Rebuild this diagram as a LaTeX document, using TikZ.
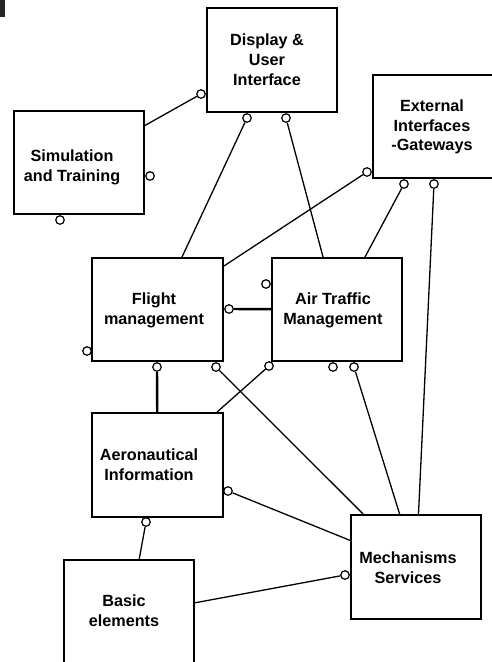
\documentclass[tikz,border=0pt]{standalone}
\usepackage{fontspec}
\setmainfont{Liberation Sans}
\begin{document}
\begin{tikzpicture}[x=1pt,y=-1pt,
  box/.style={draw, rectangle, line width=2pt, inner sep=0pt},
  lbl/.style={font=\bfseries\fontsize{16.2}{19.8}\selectfont, align=center, inner sep=0pt},
  port/.style={circle, draw, fill=white, line width=1.2pt, inner sep=0pt, minimum size=8.5pt},
  link/.style={line width=1.3pt},
  strong/.style={line width=2.4pt},
]
\useasboundingbox (0,0) rectangle (492,662);
\begin{scope}
\clip (0,0) rectangle (492,662);
\fill[black!85] (0,0) rectangle (4.5,17);

% subsystem boxes
\node[box, minimum width=130pt, minimum height=104pt] (disp)  at (272,60)    {};
\node[box, minimum width=130pt, minimum height=103pt] (sim)   at (79,162.5)  {};
\node[box, minimum width=126pt, minimum height=103pt] (ext)   at (436,126.5) {};
\node[box, minimum width=131pt, minimum height=103pt] (fm)    at (157.5,309.5) {};
\node[box, minimum width=130pt, minimum height=103pt] (atm)   at (337,309.5) {};
\node[box, minimum width=131pt, minimum height=104pt] (ai)    at (157.5,465) {};
\node[box, minimum width=130pt, minimum height=104pt] (mech)  at (416,567)   {};
\node[box, minimum width=130pt, minimum height=110pt] (basic) at (129,615)   {};

% box captions
\node[lbl] (disp-t)  at (267,60)    {Display \&\\User\\Interface};
\node[lbl] (sim-t)   at (72,167)    {Simulation\\and Training};
\node[lbl] (ext-t)   at (432,127)   {External\\Interfaces\\-Gateways};
\node[lbl] (fm-t)    at (154,310)   {Flight\\management};
\node[lbl] (atm-t)   at (333,310)   {Air Traffic\\Management};
\node[lbl] (ai-t)    at (149,464.5) {Aeronautical\\Information};
\node[lbl] (mech-t)  at (408,567.5) {Mechanisms\\Services};
\node[lbl] (basic-t) at (124,611)   {Basic\\elements};

% interface ports
\node[port] (pdl)  at (201,94)  {};
\node[port] (pdb1) at (247,118) {};
\node[port] (pdb2) at (286,118) {};
\node[port] (psr)  at (150,176) {};
\node[port] (psb)  at (60,220)  {};
\node[port] (pel)  at (367,172) {};
\node[port] (peb1) at (404,184) {};
\node[port] (peb2) at (434,184) {};
\node[port] (pfr)  at (229,309) {};
\node[port] (pfl)  at (87,351)  {};
\node[port] (pfb1) at (157,367) {};
\node[port] (pfb2) at (216,367) {};
\node[port] (pal)  at (266,284) {};
\node[port] (pab1) at (269,366) {};
\node[port] (pab2) at (333,367) {};
\node[port] (pab3) at (354,367) {};
\node[port] (pir)  at (228,491) {};
\node[port] (pib)  at (146,522) {};
\node[port] (pml)  at (345,575) {};

% connections
\draw[link]   (pdl)  -- (sim);
\draw[link]   (pdb1) -- (fm);
\draw[link]   (pdb2) -- (atm);
\draw[link]   (pel)  -- (fm);
\draw[link]   (peb1) -- (atm);
\draw[link]   (peb2) -- (mech);
\draw[strong] (pfr)  -- (atm);
\draw[strong] (pfb1) -- (ai);
\draw[link]   (pfb2) -- (mech);
\draw[link]   (pab1) -- (ai);
\draw[link]   (pab3) -- (mech);
\draw[link]   (pir)  -- (mech);
\draw[link]   (pib)  -- (basic);
\draw[link]   (pml)  -- (basic);
\end{scope}
\end{tikzpicture}
\end{document}
